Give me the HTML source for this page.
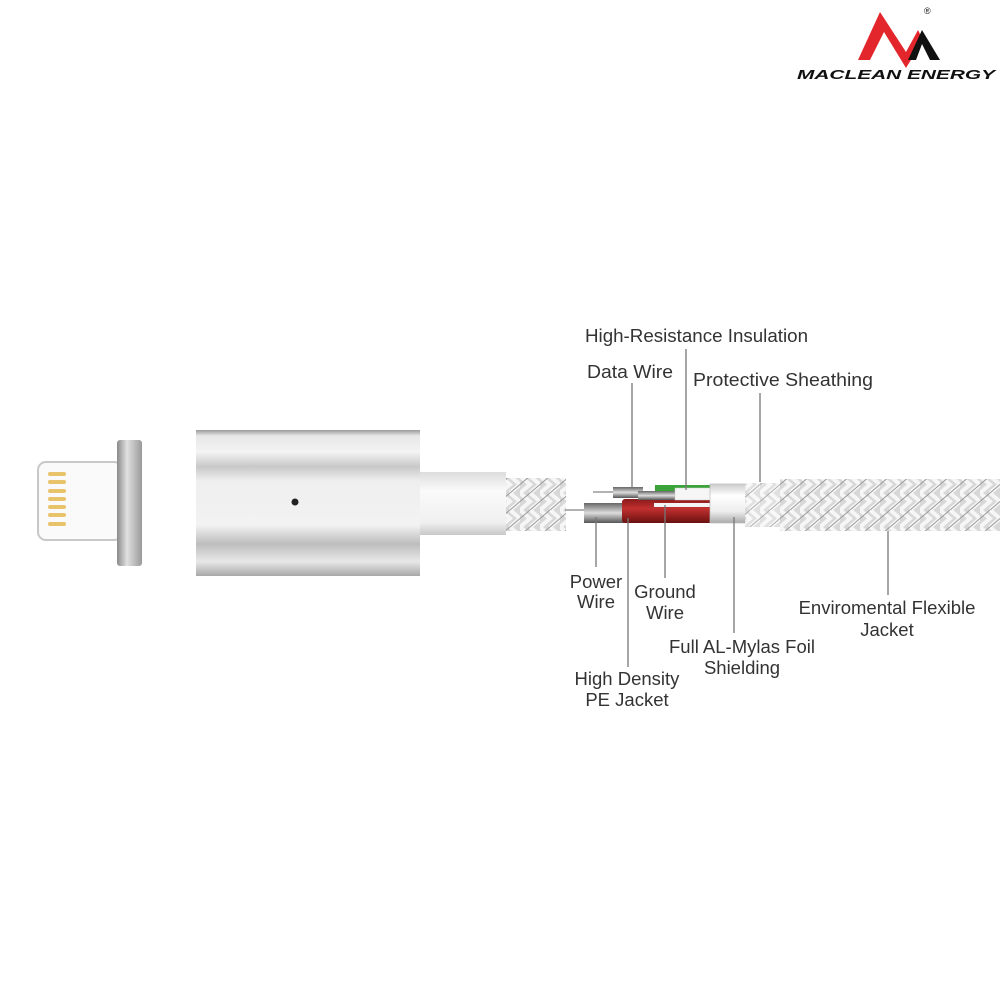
<!DOCTYPE html>
<html><head><meta charset="utf-8"><style>
html,body{margin:0;padding:0;background:#fff;width:1000px;height:1000px;overflow:hidden}
svg text{font-family:"Liberation Sans","DejaVu Sans",sans-serif;font-size:18.5px;fill:#333}
</style></head><body>
<svg width="1000" height="1000" viewBox="0 0 1000 1000" xmlns="http://www.w3.org/2000/svg">
<defs>
<linearGradient id="body" x1="0" y1="0" x2="0" y2="1">
<stop offset="0" stop-color="#9a9a9a"/><stop offset="0.04" stop-color="#e6e6e6"/>
<stop offset="0.15" stop-color="#f4f4f4"/><stop offset="0.25" stop-color="#c8c8c8"/>
<stop offset="0.35" stop-color="#efefef"/><stop offset="0.65" stop-color="#f2f2f2"/>
<stop offset="0.78" stop-color="#bdbdbd"/><stop offset="0.9" stop-color="#e8e8e8"/>
<stop offset="1" stop-color="#a8a8a8"/></linearGradient>
<linearGradient id="cap" x1="0" y1="0" x2="1" y2="0">
<stop offset="0" stop-color="#8a8a8a"/><stop offset="0.4" stop-color="#e0e0e0"/><stop offset="1" stop-color="#9a9a9a"/></linearGradient>
<linearGradient id="neck" x1="0" y1="0" x2="0" y2="1">
<stop offset="0" stop-color="#ddd"/><stop offset="0.3" stop-color="#fafafa"/><stop offset="0.8" stop-color="#f0f0f0"/><stop offset="1" stop-color="#c8c8c8"/></linearGradient>
<linearGradient id="red" x1="0" y1="0" x2="0" y2="1">
<stop offset="0" stop-color="#8a1a1a"/><stop offset="0.4" stop-color="#c23030"/><stop offset="1" stop-color="#6a1010"/></linearGradient>
<linearGradient id="grey" x1="0" y1="0" x2="0" y2="1">
<stop offset="0" stop-color="#666"/><stop offset="0.5" stop-color="#ddd"/><stop offset="1" stop-color="#555"/></linearGradient>
<linearGradient id="foil" x1="0" y1="0" x2="0" y2="1">
<stop offset="0" stop-color="#ccc"/><stop offset="0.3" stop-color="#fff"/><stop offset="0.7" stop-color="#eee"/><stop offset="1" stop-color="#aaa"/></linearGradient>
<pattern id="braid" width="20" height="17" patternUnits="userSpaceOnUse">
<rect width="20" height="17" fill="#d8d8d8"/>
<path d="M0 0 L10 8.5 L0 17 M10 0 L20 8.5 L10 17" stroke="#f6f6f6" stroke-width="4" fill="none"/>
<path d="M0 8.5 L10 0 M10 17 L20 8.5" stroke="#999" stroke-width="1" fill="none"/>
</pattern>
</defs>

<!-- logo -->
<polygon points="858,60 880,12 906,52 918,30 923,40 906,68 884,32 870,60" fill="#e3262b"/>
<polygon points="908,60 922,30 940,60 930,60 922,44 916,60" fill="#111"/>
<text x="924" y="14" style="font-size:9px;fill:#111">®</text>
<text x="797" y="79" textLength="198" lengthAdjust="spacingAndGlyphs" style="font-size:13px;font-weight:bold;font-style:italic;fill:#111">MACLEAN ENERGY</text>

<!-- lightning connector -->
<rect x="38" y="462" width="84" height="78" rx="8" fill="#fafafa" stroke="#c8c8c8" stroke-width="2"/>
<g fill="#e8c36a">
<rect x="48" y="472" width="18" height="4" rx="2"/><rect x="48" y="480" width="18" height="4" rx="2"/>
<rect x="48" y="489" width="18" height="4" rx="2"/><rect x="48" y="497" width="18" height="4" rx="2"/>
<rect x="48" y="505" width="18" height="4" rx="2"/><rect x="48" y="513" width="18" height="4" rx="2"/>
<rect x="48" y="522" width="18" height="4" rx="2"/></g>
<rect x="117" y="440" width="25" height="126" rx="3" fill="url(#cap)"/>

<!-- magnetic plug -->
<rect x="196" y="430" width="224" height="146" fill="url(#body)"/>
<circle cx="295" cy="502" r="3.5" fill="#222"/>
<rect x="420" y="472" width="86" height="63" fill="url(#neck)"/>
<rect x="506" y="478" width="60" height="53" fill="url(#braid)"/>

<!-- stripped wires -->
<line x1="565" y1="510" x2="585" y2="510" stroke="#999" stroke-width="1.5"/>
<rect x="584" y="503" width="40" height="20" fill="url(#grey)"/>
<rect x="622" y="499" width="92" height="24" rx="3" fill="url(#red)"/>
<rect x="654" y="503" width="58" height="4" fill="#f4f4f4"/>
<line x1="593" y1="492" x2="614" y2="492" stroke="#999" stroke-width="1.5"/>
<rect x="613" y="487" width="30" height="11" fill="url(#grey)"/>
<rect x="655" y="485" width="56" height="7" fill="#3aa33a"/>
<rect x="638" y="491" width="42" height="9" fill="url(#grey)"/>
<rect x="675" y="488" width="38" height="12" fill="#f6f6f6" stroke="#ccc" stroke-width="0.5"/>
<rect x="710" y="484" width="36" height="39" fill="url(#foil)" stroke="#bbb" stroke-width="0.7"/>
<rect x="745" y="483" width="36" height="44" fill="url(#braid)" opacity="0.8"/>
<rect x="780" y="479" width="220" height="52" fill="url(#braid)"/>

<!-- leader lines -->
<g stroke="#777" stroke-width="1.3">
<line x1="686" y1="349" x2="686" y2="490"/>
<line x1="632" y1="383" x2="632" y2="488"/>
<line x1="760" y1="393" x2="760" y2="482"/>
<line x1="596" y1="517" x2="596" y2="567"/>
<line x1="665" y1="505" x2="665" y2="578"/>
<line x1="628" y1="518" x2="628" y2="667"/>
<line x1="734" y1="517" x2="734" y2="633"/>
<line x1="888" y1="531" x2="888" y2="595"/>
</g>

<!-- labels -->
<text x="585" y="342" textLength="223" lengthAdjust="spacingAndGlyphs">High-Resistance Insulation</text>
<text x="587" y="378" textLength="86" lengthAdjust="spacingAndGlyphs">Data Wire</text>
<text x="693" y="386" textLength="180" lengthAdjust="spacingAndGlyphs">Protective Sheathing</text>
<g text-anchor="middle">
<text x="596" y="588">Power</text><text x="596" y="608">Wire</text>
<text x="665" y="598">Ground</text><text x="665" y="619">Wire</text>
<text x="887" y="614">Enviromental Flexible</text><text x="887" y="636">Jacket</text>
<text x="742" y="653">Full AL-Mylas Foil</text><text x="742" y="674">Shielding</text>
<text x="627" y="685">High Density</text><text x="627" y="706">PE Jacket</text>
</g>
</svg>
</body></html>
